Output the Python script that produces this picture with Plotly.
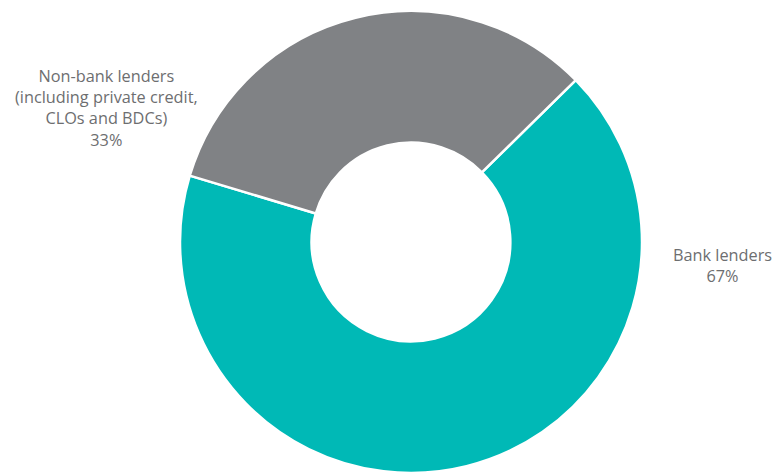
import plotly.graph_objects as go

labels = ["Bank lenders", "Non-bank lenders (including private credit, CLOs and BDCs)"]
values = [67, 33]
colors = ["#00B9B6", "#808285"]
label_texts = ["Bank lenders<br>67%", "Non-bank lenders<br>(including private credit,<br>CLOs and BDCs)<br>33%"]

W, H = 773, 474
ml, mr, mt, mb = 180, 131, 10, 0
pw, ph = W - ml - mr, H - mt - mb

fig = go.Figure(go.Pie(
    labels=labels, values=values, hole=0.43, sort=False, direction="clockwise",
    rotation=45.5, marker=dict(colors=colors, line=dict(color="white", width=2.5)),
    textinfo="none", hoverinfo="label+percent", showlegend=False,
))

font = dict(family="Open Sans", size=16.3, color="#6d6e70")
fig.add_annotation(x=(722 - ml) / pw, y=(H - mb - 265) / ph, xref="paper", yref="paper",
                   text=label_texts[0], showarrow=False, align="center",
                   xanchor="center", yanchor="middle", font=font)
fig.add_annotation(x=(106.5 - ml) / pw, y=(H - mb - 108.5) / ph, xref="paper", yref="paper",
                   text=label_texts[1], showarrow=False, align="center",
                   xanchor="center", yanchor="middle", font=font)

fig.update_layout(
    width=W, height=H, paper_bgcolor="white", plot_bgcolor="white",
    margin=dict(l=ml, r=mr, t=mt, b=mb),
)
fig.write_html("out.html")
